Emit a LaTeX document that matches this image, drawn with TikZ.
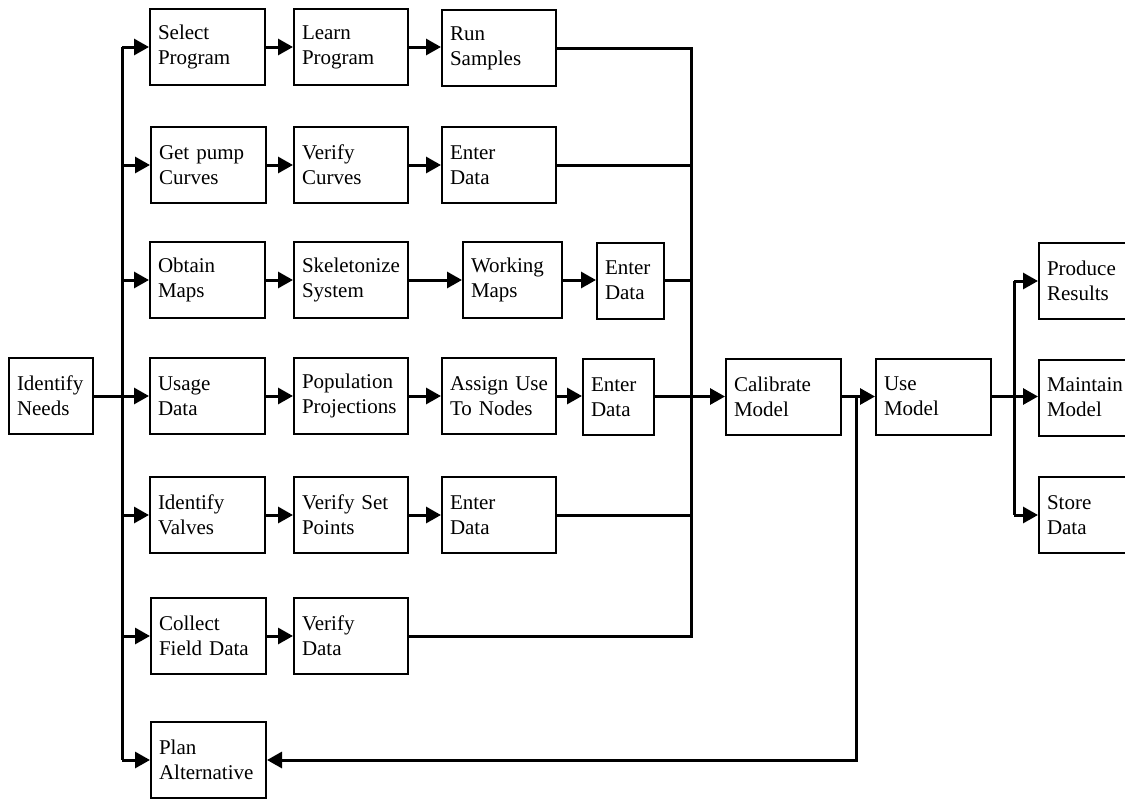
\documentclass[tikz,border=0pt]{standalone}
\usepackage{fontspec}
\setmainfont{Liberation Serif}
\usetikzlibrary{arrows.meta}
\begin{document}
\begin{tikzpicture}[x=1pt,y=-1pt,
  box/.style={draw, line width=2pt, minimum height=76pt, inner xsep=8pt, inner ysep=0pt,
    align=left, font=\fontsize{21}{25}\selectfont},
  wA/.style={minimum width=115pt, text width=99pt},
  wB/.style={minimum width=114pt, text width=98pt},
  wN/.style={minimum width=84pt, text width=68pt},
  wW/.style={minimum width=99pt, text width=83pt},
  wE/.style={minimum width=67pt, text width=51pt},
  wF/.style={minimum width=71pt, text width=55pt},
  conn/.style={line width=3pt},
  arr/.style={conn, -{Triangle[length=15pt,width=16pt]}}]
\clip (0,0) rectangle (1125,801);
\fill[white] (0,0) rectangle (1125,801);
% nodes
\node[box,wN] (needs) at (51,396) {Identify\\Needs};
\node[box,wA] (sel) at (207.5,47) {Select\\Program};
\node[box,wA] (pump) at (208.5,165) {Get pump\\Curves};
\node[box,wA] (maps) at (207.5,280) {Obtain\\Maps};
\node[box,wA] (usage) at (207.5,396) {Usage\\Data};
\node[box,wA] (valves) at (207.5,515) {Identify\\Valves};
\node[box,wA] (collect) at (208.5,636) {Collect\\Field Data};
\node[box,wA] (plan) at (208.5,760) {Plan\\Alternative};
\node[box,wB] (learn) at (351,47) {Learn\\Program};
\node[box,wB] (vcurves) at (351,165) {Verify\\Curves};
\node[box,wB] (skel) at (351,280) {Skeletonize\\System};
\node[box,wB] (pop) at (351,396) {Population\\Projections};
\node[box,wB] (vset) at (351,515) {Verify Set\\Points};
\node[box,wB] (vdata) at (351,636) {Verify\\Data};
\node[box,wB] (run) at (499,48) {Run\\Samples};
\node[box,wB] (enterB) at (499,165) {Enter\\Data};
\node[box,wW] (working) at (512.5,280) {Working\\Maps};
\node[box,wE] (enterC) at (630.5,280.5) {Enter\\Data};
\node[box,wB] (assign) at (499,396) {\mbox{Assign Use}\\To Nodes};
\node[box,wF] (enterD) at (618.5,397) {Enter\\Data};
\node[box,wB] (enterE) at (499,515) {Enter\\Data};
\node[box,wA] (calib) at (783.5,396.5) {Calibrate\\Model};
\node[box,wA] (use) at (933.5,396.5) {Use\\Model};
\node[box,wA] (prod) at (1096.5,281) {Produce\\Results};
\node[box,wA] (maint) at (1096.5,397.5) {Maintain\\Model};
\node[box,wA] (store) at (1096.5,515) {Store\\Data};
% bus coordinates
\coordinate (lt) at (122,47);
\coordinate (lb) at (122,760);
\coordinate (rt) at (691,48);
\coordinate (rb) at (691,636);
\coordinate (fb) at (856,396.5);
\coordinate (ut) at (1014,281);
\coordinate (ub) at (1014,515);
% left bus
\draw[conn] (lt) -- (lb);
\draw[arr] (needs) -- (usage);
\draw[arr] (lt) -- (sel);
\draw[arr] (lt |- pump) -- (pump);
\draw[arr] (lt |- maps) -- (maps);
\draw[arr] (lt |- valves) -- (valves);
\draw[arr] (lt |- collect) -- (collect);
\draw[arr] (lb) -- (plan);
% rows
\draw[arr] (sel) -- (learn);
\draw[arr] (learn) -- (learn -| run.west);
\draw[arr] (pump) -- (vcurves);
\draw[arr] (vcurves) -- (enterB);
\draw[arr] (maps) -- (skel);
\draw[arr] (skel) -- (working);
\draw[arr] (working) -- (working -| enterC.west);
\draw[arr] (usage) -- (pop);
\draw[arr] (pop) -- (assign);
\draw[arr] (assign) -- (assign -| enterD.west);
\draw[arr] (valves) -- (vset);
\draw[arr] (vset) -- (enterE);
\draw[arr] (collect) -- (collect -| vdata.west);
% right bus
\draw[conn] (run.east) -- (rt) -- (rb) -- (vdata.east |- rb);
\draw[conn] (enterB) -- (enterB -| rt);
\draw[conn] (enterC) -- (enterC -| rt);
\draw[conn] (enterE) -- (enterE -| rt);
\draw[conn] (enterD.east |- calib) -- (calib -| rt);
\draw[arr] (calib -| rt) -- (calib);
\draw[arr] (calib) -- (use);
\draw[arr] (fb) |- (plan);
% output bus
\draw[conn] (ut) -- (ub);
\draw[conn] (use) -- (use -| ut);
\draw[arr] (ut) -- (prod);
\draw[arr] (use -| ut) -- (use -| maint.west);
\draw[arr] (ub) -- (store);
\end{tikzpicture}
\end{document}
